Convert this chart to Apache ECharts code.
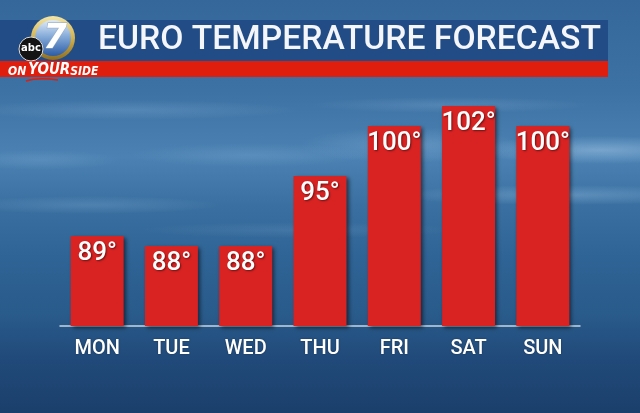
<!DOCTYPE html>
<html><head><meta charset="utf-8">
<script src="https://cdn.jsdelivr.net/npm/echarts@6/dist/echarts.min.js"></script>
<style>html,body{margin:0;padding:0;}#c{width:640px;height:413px;}</style>
</head><body><div id="c"></div>
<script>
var days = ['MON','TUE','WED','THU','FRI','SAT','SUN'];
var temps = [89, 88, 88, 95, 100, 102, 100];
var titleText = 'EURO TEMPERATURE FORECAST';

function fitScale(text, font, target){
  var cv = document.createElement('canvas').getContext('2d');
  cv.font = font;
  var w = cv.measureText(text).width;
  return w > 0 ? target / w : 1;
}
var titleFont = '500 33px Roboto';
var titleScale = fitScale(titleText, titleFont, 503);

var chart = echarts.init(document.getElementById('c'));
function cloud(x,y,w,h,op){
  return {type:'circle', shape:{cx:0, cy:0, r:w}, x:x, y:y, scaleY:h/w, silent:true, z:-9,
    style:{fill:{type:'radial',x:0.5,y:0.5,r:0.5,colorStops:[
      {offset:0,color:'rgba(175,208,238,'+op+')'},{offset:0.5,color:'rgba(175,208,238,'+(op*0.5)+')'},{offset:1,color:'rgba(175,208,238,0)'}]}}};
}
chart.setOption({
  animation:false,
  backgroundColor:{type:'linear',x:0,y:0,x2:0,y2:1,colorStops:[
    {offset:0,color:'#35679a'},{offset:0.22,color:'#3d72a4'},{offset:0.38,color:'#4b82b3'},
    {offset:0.5,color:'#3a70a1'},{offset:0.62,color:'#2f6496'},{offset:0.76,color:'#295b8b'},
    {offset:0.86,color:'#214b7b'},{offset:1,color:'#1b3f6b'}]},
  grid:{left:60, width:520, top:76, height:250},
  xAxis:{type:'category', data:days,
    axisLine:{lineStyle:{color:'#c9d6e3', width:1.5}},
    axisTick:{show:false},
    axisLabel:{color:'#ffffff', fontFamily:'Roboto', fontWeight:500, fontSize:20, margin:13,
      textShadowColor:'rgba(0,0,0,0.4)', textShadowBlur:2}},
  yAxis:{type:'value', min:80, max:105, show:false, splitLine:{show:false}},
  series:[{type:'bar', data:temps, barWidth:53,
    itemStyle:{color:'#d92222', shadowColor:'rgba(0,0,0,0.55)', shadowBlur:4, shadowOffsetX:2, shadowOffsetY:2},
    label:{show:true, position:'insideTop', distance:4, formatter:'{c}°', color:'#ffffff',
      fontFamily:'Roboto', fontWeight:500, fontSize:26,
      textShadowColor:'rgba(0,0,0,0.5)', textShadowBlur:2, textShadowOffsetX:1, textShadowOffsetY:1}}],
  graphic:[
    cloud(600,150,130,14,0.45), cloud(560,195,170,10,0.3), cloud(410,145,110,18,0.25),
    cloud(130,110,170,10,0.18), cloud(450,105,140,8,0.18), cloud(90,205,130,9,0.18),
    cloud(300,230,160,8,0.12), cloud(250,155,120,12,0.15), cloud(40,160,80,10,0.15),
    {type:'rect', shape:{x:0,y:20,width:608,height:41}, style:{fill:'#224c86'}, z:10},
    {type:'rect', shape:{x:0,y:61,width:608,height:16}, style:{fill:'#e01e0e'}, z:10},
    {type:'text', x:98, y:41, scaleX:titleScale, z:11,
      style:{text:titleText, font:titleFont, fill:'#f4f6fa', textVerticalAlign:'middle'}},
    // logo
    {type:'circle', shape:{cx:53,cy:38,r:22}, z:12,
      style:{fill:{type:'linear',x:0,y:0,x2:0,y2:1,colorStops:[{offset:0,color:'#f3e6a8'},{offset:0.5,color:'#d2b24e'},{offset:1,color:'#8f6e20'}]}}},
    {type:'circle', shape:{cx:53,cy:38,r:18}, z:13,
      style:{fill:{type:'linear',x:0,y:0,x2:0,y2:1,colorStops:[{offset:0,color:'#dfeaf6'},{offset:0.45,color:'#86acd9'},{offset:1,color:'#2c5ca6'}]}}},
    {type:'text', x:55, y:39, z:14,
      style:{text:'7', font:'italic 900 34px "DejaVu Sans"', fill:'#ffffff', stroke:'#8fa3bd', lineWidth:1, textAlign:'center', textVerticalAlign:'middle'}},
    {type:'circle', shape:{cx:31,cy:49,r:12}, z:15,
      style:{fill:'#141414', stroke:'#dcdcdc', lineWidth:1}},
    {type:'text', x:31, y:48, z:16,
      style:{text:'abc', font:'bold 10px "DejaVu Sans"', fill:'#ffffff', textAlign:'center', textVerticalAlign:'middle'}},
    {type:'text', x:8, y:70, z:16,
      style:{text:'{a|ON}{b|YOUR}{a|SIDE}', textVerticalAlign:'middle', fill:'#ffffff',
        rich:{a:{font:'italic bold 12px "DejaVu Sans Condensed"', fill:'#ffffff', verticalAlign:'bottom'},
              b:{font:'italic bold 15px "DejaVu Sans Condensed"', fill:'#ffffff', verticalAlign:'bottom', padding:[0,0,0,2]}}}},
    {type:'bezierCurve', shape:{x1:26,y1:81,x2:58,y2:80,cpx1:38,cpy1:77}, z:16,
      style:{stroke:'#e01e0e', lineWidth:1.5, fill:null}}
  ]
});
</script></body></html>
